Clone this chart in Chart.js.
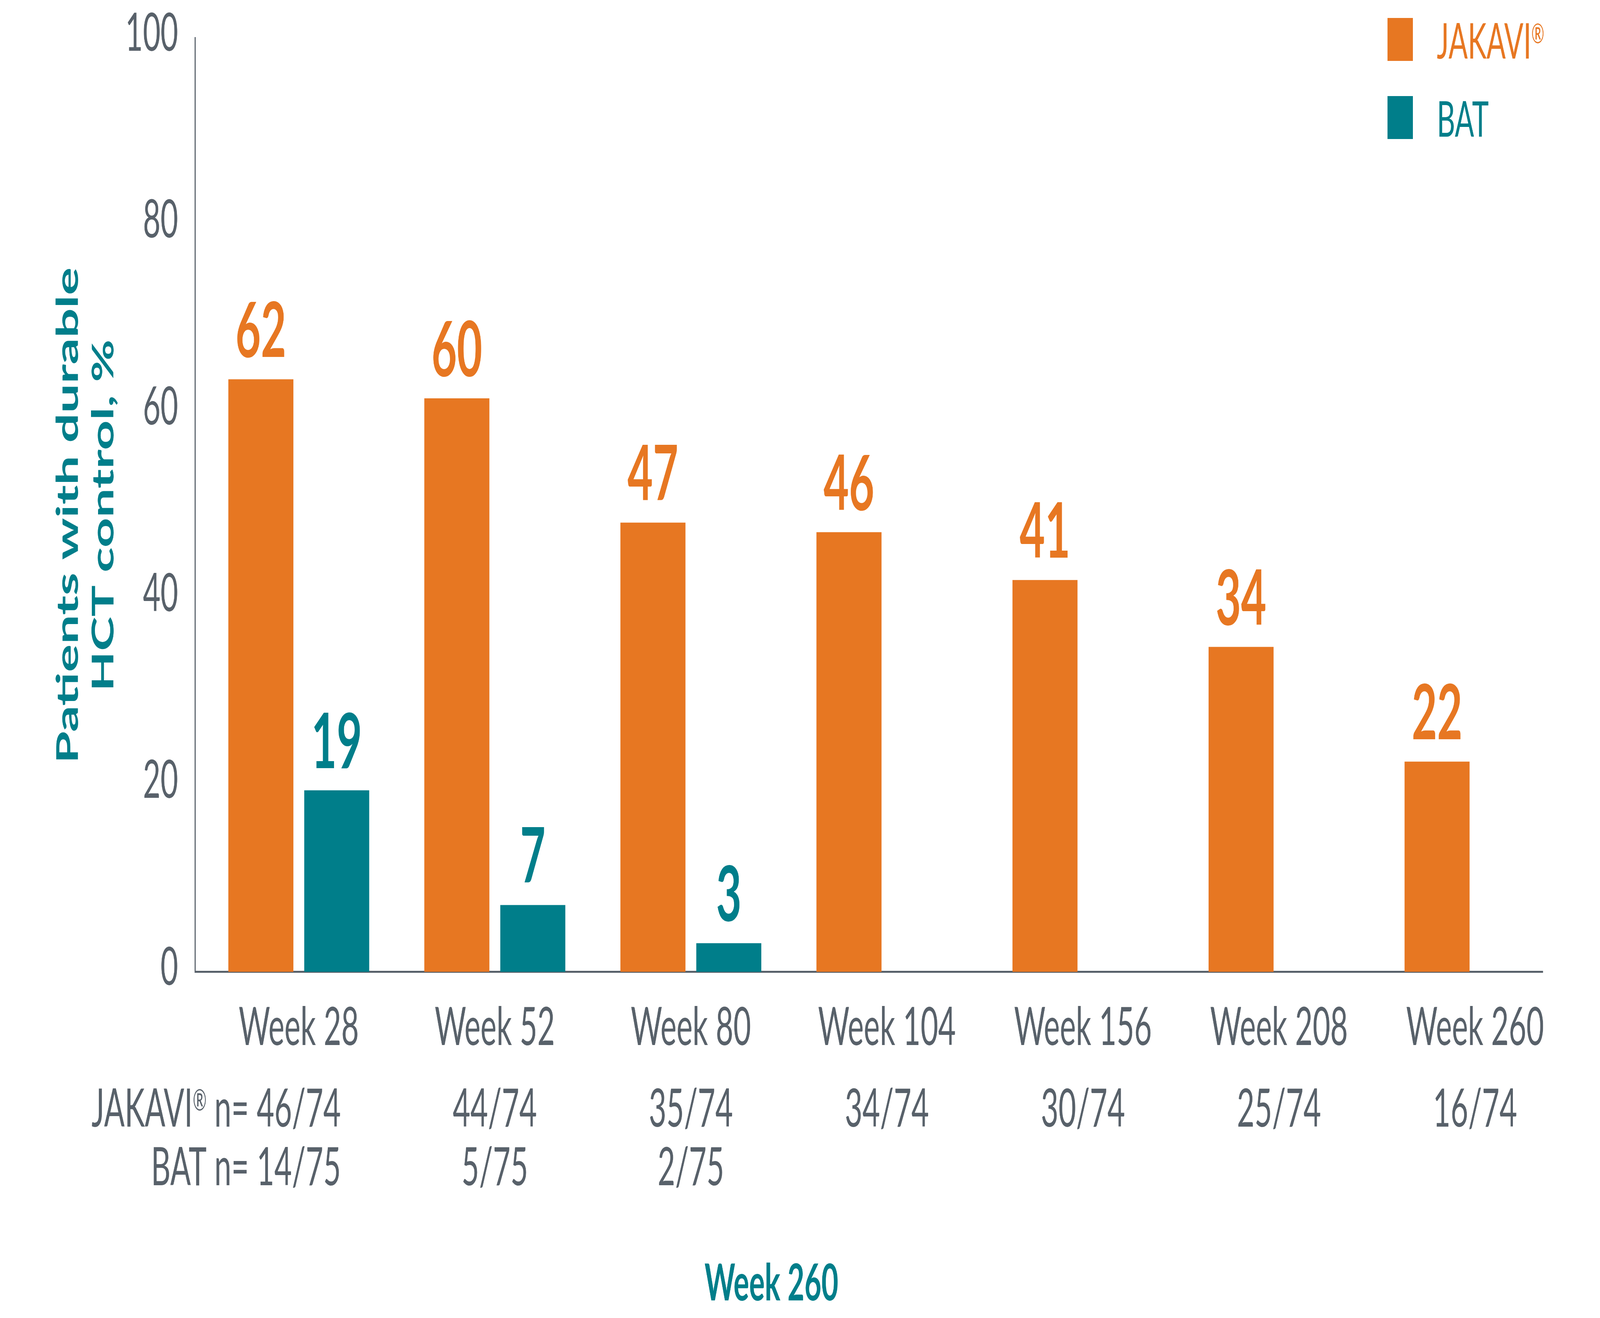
<!DOCTYPE html>
<html>
<head>
<meta charset="utf-8">
<script src="https://cdn.jsdelivr.net/npm/chart.js@4.4.1/dist/chart.umd.min.js"></script>
<style>
html,body{margin:0;padding:0;background:#ffffff;overflow:hidden;}
canvas{display:block;}
</style>
</head>
<body>
<canvas id="c" width="7168" height="3375" style="width:100vw;height:100vh;"></canvas>
<script>
// ---------------- data ----------------
const weeks = ['Week 28', 'Week 52', 'Week 80', 'Week 104', 'Week 156', 'Week 208', 'Week 260'];
const jakavi = [62, 60, 47, 46, 41, 34, 22];
const bat = [19, 7, 3, null, null, null, null];
const jakaviN = ['46/74', '44/74', '35/74', '34/74', '30/74', '25/74', '16/74'];
const batN = ['14/75', '5/75', '2/75', '', '', '', ''];
const seriesNames = ['JAKAVI®', 'BAT'];
const rowPrefixes = ['JAKAVI® n= ', 'BAT n= '];
const yTicks = [0, 20, 40, 60, 80, 100];
const yTitle = ['Patients with durable', 'HCT control, %'];
const xTitle = 'Week 260';

// ---------------- style ----------------
const ORANGE = '#E77722';
const TEAL = '#007E8A';
const GRAY = '#58616A';
const FONT = 'Lato';

function fontStr(size, weight) { return (weight || 'normal') + ' ' + size + 'px ' + FONT; }

// draw text with a small raised ® sign
function drawRich(ctx, text, x, y, size, weight, align, color) {
  const parts = text.split(/(®)/).filter(s => s.length);
  const sizes = parts.map(p => p === '®' ? size * 0.55 : size);
  const widths = parts.map((p, k) => { ctx.font = fontStr(sizes[k], weight); return ctx.measureText(p).width; });
  const total = widths.reduce((a, b) => a + b, 0);
  let cx = align === 'right' ? x - total : (align === 'center' ? x - total / 2 : x);
  ctx.save();
  ctx.fillStyle = color;
  ctx.textAlign = 'left';
  ctx.textBaseline = 'alphabetic';
  parts.forEach((p, k) => {
    ctx.font = fontStr(sizes[k], weight);
    ctx.fillText(p, cx, p === '®' ? y - size * 0.31 : y);
    cx += widths[k];
  });
  ctx.restore();
  return total;
}

const valueLabels = {
  id: 'valueLabels',
  afterDatasetsDraw(chart) {
    const ctx = chart.ctx;
    chart.data.datasets.forEach((ds, di) => {
      const meta = chart.getDatasetMeta(di);
      meta.data.forEach((bar, i) => {
        const v = ds.data[i].y;
        if (v === null || v === undefined) return;
        ctx.save();
        ctx.font = fontStr(196, 'bold');
        ctx.fillStyle = ds.backgroundColor;
        ctx.textAlign = 'center';
        ctx.textBaseline = 'alphabetic';
        ctx.fillText(String(v), bar.x, bar.y - 57);
        ctx.restore();
      });
    });
  }
};

const nTable = {
  id: 'nTable',
  afterDraw(chart) {
    const ctx = chart.ctx;
    const xs = chart.scales.x;
    const base = chart.chartArea.bottom;
    const rows = [jakaviN, batN];
    const rowY = [base + 396, base + 546];
    const size = 136;
    rows.forEach((row, r) => {
      row.forEach((txt, i) => {
        if (!txt) return;
        const cx = xs.getPixelForValue(i);
        ctx.font = fontStr(size, 'normal');
        const w = ctx.measureText(txt).width;
        drawRich(ctx, txt, cx, rowY[r], size, 'normal', 'center', GRAY);
        if (i === 0) drawRich(ctx, rowPrefixes[r], cx - w / 2, rowY[r], size, 'normal', 'right', GRAY);
      });
    });
  }
};

const yAxisTitle = {
  id: 'yAxisTitle',
  afterDraw(chart) {
    const ctx = chart.ctx;
    const area = chart.chartArea;
    const cy = (area.top + area.bottom) / 2 + 27;
    const lineH = 159;
    ctx.save();
    ctx.translate(306, cy);
    ctx.rotate(-Math.PI / 2);
    ctx.font = fontStr(134, 'bold');
    ctx.fillStyle = TEAL;
    ctx.textAlign = 'center';
    ctx.textBaseline = 'middle';
    yTitle.forEach((line, k) => ctx.fillText(line, 0, k * lineH));
    ctx.restore();
  }
};

const customLegend = {
  id: 'customLegend',
  afterDraw(chart) {
    const ctx = chart.ctx;
    chart.data.datasets.forEach((ds, di) => {
      const top = 46 + di * 200;
      ctx.save();
      ctx.fillStyle = ds.backgroundColor;
      ctx.fillRect(6216, top, 114, 110);
      ctx.restore();
      drawRich(ctx, ds.label, 6437, top + 104, 127, 'normal', 'left', ds.backgroundColor);
    });
  }
};

function build() {
  Chart.defaults.font.family = FONT;
  new Chart(document.getElementById('c'), {
    type: 'bar',
    data: {
      datasets: [
        {
          label: seriesNames[0],
          data: jakavi.map((v, i) => ({ x: i, y: v })),
          backgroundColor: ORANGE,
          yAxisID: 'yb',
          categoryPercentage: 0.7743,
          barPercentage: 0.857
        },
        {
          label: seriesNames[1],
          data: bat.map((v, i) => ({ x: i, y: v })).filter(p => p.y !== null),
          backgroundColor: TEAL,
          yAxisID: 'yb',
          categoryPercentage: 0.7743,
          barPercentage: 0.857
        }
      ]
    },
    options: {
      responsive: false,
      animation: false,
      devicePixelRatio: 1,
      layout: { padding: { top: 97, right: 256, left: 0, bottom: 0 } },
      plugins: {
        legend: { display: false },
        tooltip: { enabled: false },
        title: {
          display: true,
          text: xTitle,
          position: 'bottom',
          color: TEAL,
          font: { family: FONT, weight: 'bold', size: 131, lineHeight: 1.2 },
          padding: { top: 0, bottom: 9 }
        }
      },
      scales: {
        x: {
          type: 'linear',
          min: -0.5289,
          max: 6.346,
          offset: false,
          grid: { display: false, drawTicks: false, offset: false },
          border: { display: true, color: GRAY, width: 5 },
          afterBuildTicks(scale) { scale.ticks = weeks.map((w, i) => ({ value: i })); },
          afterFit(scale) { scale.height = 720; scale.paddingLeft = 0; scale.paddingRight = 0; },
          ticks: {
            autoSkip: false,
            maxRotation: 0,
            minRotation: 0,
            padding: 62,
            color: GRAY,
            font: { family: FONT, size: 136, lineHeight: 1.2 },
            callback: (v) => weeks[v]
          }
        },
        y: {
          type: 'linear',
          position: 'left',
          min: yTicks[0],
          max: yTicks[yTicks.length - 1],
          grid: { display: false, drawTicks: false },
          border: { display: true, color: GRAY, width: 5 },
          afterBuildTicks(scale) { scale.ticks = yTicks.map(v => ({ value: v })); },
          afterFit(scale) { scale.width = 874; scale.paddingTop = 0; scale.paddingBottom = 0; },
          ticks: {
            padding: 76,
            labelOffset: -11,
            color: GRAY,
            font: { family: FONT, size: 136, lineHeight: 1.2 }
          },
          title: { display: false }
        },
        yb: {
          type: 'linear',
          display: false,
          min: 0,
          max: 97.71
        }
      }
    },
    plugins: [valueLabels, nTable, yAxisTitle, customLegend]
  });
}

const fontLoads = [
  document.fonts.load('normal 136px Lato'),
  document.fonts.load('bold 136px Lato')
];
Promise.all(fontLoads).then(build, build);
</script>
</body>
</html>
